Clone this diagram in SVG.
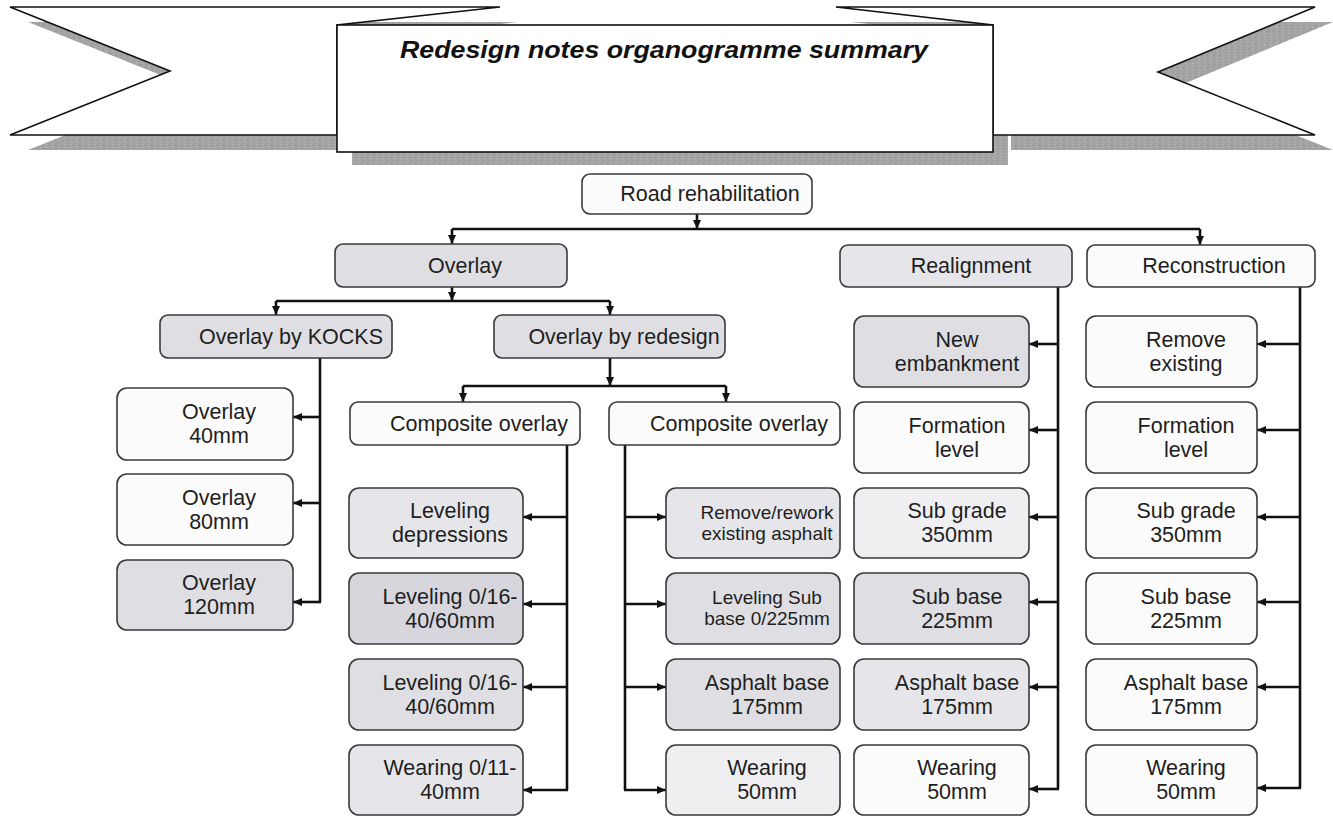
<svg xmlns="http://www.w3.org/2000/svg" width="1333" height="817" viewBox="0 0 1333 817">
  <style>
    .rib { fill: #ffffff; stroke: #111; stroke-width: 1.6; stroke-linejoin: miter; }
    .shd { fill: url(#stipple); }
    .box { stroke: #3a3a3a; stroke-width: 1.6; }
    .w  { fill: #fbfbfb; }
    .l1 { fill: #efeff2; }
    .l2 { fill: #e6e6ea; }
    .g1 { fill: #dedee3; }
    .g2 { fill: #d6d6dc; }
    text { font-family: "Liberation Sans", Arial, sans-serif; fill: #1e1e1e; text-anchor: middle; }
    .t { font-size: 21.5px; }
    .s { font-size: 19px; }
    .title { font-size: 24px; font-weight: bold; font-style: italic; fill: #111; }
    .c { fill: none; stroke: #111; stroke-width: 2.6; }
    .ca { fill: none; stroke: #111; stroke-width: 2.6; marker-end: url(#ah); }
  </style>
  <defs>
    <marker id="ah" markerUnits="userSpaceOnUse" markerWidth="9" markerHeight="8" refX="9" refY="4" orient="auto">
      <path d="M0,0 L9,4 L0,8 z" fill="#111"/>
    </marker>
    <!-- grainy grey used for the banner shadows -->
    <pattern id="stipple" patternUnits="userSpaceOnUse" width="6" height="6">
      <rect width="6" height="6" fill="#a4a4a4"/>
      <rect x="1" y="1" width="1" height="1" fill="#8c8c8c"/>
      <rect x="4" y="3" width="1" height="1" fill="#bcbcbc"/>
      <rect x="2" y="4" width="1" height="1" fill="#929292"/>
      <rect x="5" y="0" width="1" height="1" fill="#b4b4b4"/>
    </pattern>
  </defs>

  <!-- title banner: cast shadows -->
  <g id="banner">
    <polygon class="shd" points="28,22 518,22 355,40 355,150 28,150 188,86"/>
    <polygon class="shd" points="851,22 1333,22 1176,87 1333,150 1011,150 1011,40"/>
    <rect class="shd" x="352" y="38" width="656" height="127"/>
    <!-- ribbon tails -->
    <polygon class="rib" points="10,7 500,7 337,25 337,135 10,135 170,71"/>
    <polygon class="rib" points="836,7 1315,7 1158,72 1315,135 993,135 993,25"/>
    <!-- front panel -->
    <rect class="rib" x="337" y="25" width="656" height="127"/>
    <text class="title" x="664" y="58" textLength="528" lengthAdjust="spacingAndGlyphs">Redesign notes organogramme summary</text>
  </g>

  <!-- connectors -->
  <g id="connectors">
    <!-- Road rehabilitation -->
    <line class="ca" x1="697" y1="214" x2="697" y2="229"/>
    <line class="c" x1="452" y1="229" x2="1200" y2="229"/>
    <line class="ca" x1="452" y1="229" x2="452" y2="244"/>
    <line class="ca" x1="1200" y1="229" x2="1200" y2="245"/>
    <!-- Overlay -->
    <line class="ca" x1="452" y1="287" x2="452" y2="301"/>
    <line class="c" x1="276" y1="301" x2="610" y2="301"/>
    <line class="ca" x1="276" y1="301" x2="276" y2="315"/>
    <line class="ca" x1="610" y1="301" x2="610" y2="315"/>
    <!-- Overlay by redesign -->
    <line class="ca" x1="610" y1="358" x2="610" y2="386"/>
    <line class="c" x1="463" y1="386" x2="726" y2="386"/>
    <line class="ca" x1="463" y1="386" x2="463" y2="402"/>
    <line class="ca" x1="726" y1="386" x2="726" y2="402"/>
    <!-- Overlay by KOCKS -->
    <polyline class="c" points="320,358 320,602"/>
    <line class="ca" x1="320" y1="417" x2="293" y2="417"/>
    <line class="ca" x1="320" y1="503" x2="293" y2="503"/>
    <line class="ca" x1="321" y1="602" x2="293" y2="602"/>
    <!-- Composite overlay (left) -->
    <polyline class="c" points="567,445 567,790"/>
    <line class="ca" x1="567" y1="517" x2="523" y2="517"/>
    <line class="ca" x1="567" y1="604" x2="523" y2="604"/>
    <line class="ca" x1="567" y1="687" x2="523" y2="687"/>
    <line class="ca" x1="568" y1="790" x2="523" y2="790"/>
    <!-- Composite overlay (right) -->
    <polyline class="c" points="625,445 625,790"/>
    <line class="ca" x1="625" y1="517" x2="666" y2="517"/>
    <line class="ca" x1="625" y1="604" x2="666" y2="604"/>
    <line class="ca" x1="625" y1="687" x2="666" y2="687"/>
    <line class="ca" x1="624" y1="790" x2="666" y2="790"/>
    <!-- Realignment -->
    <polyline class="c" points="1058,287 1058,789"/>
    <line class="ca" x1="1058" y1="344" x2="1029" y2="344"/>
    <line class="ca" x1="1058" y1="430" x2="1029" y2="430"/>
    <line class="ca" x1="1058" y1="517" x2="1029" y2="517"/>
    <line class="ca" x1="1058" y1="602" x2="1029" y2="602"/>
    <line class="ca" x1="1058" y1="687" x2="1029" y2="687"/>
    <line class="ca" x1="1059" y1="789" x2="1029" y2="789"/>
    <!-- Reconstruction -->
    <polyline class="c" points="1300,287 1300,788"/>
    <line class="ca" x1="1300" y1="344" x2="1257" y2="344"/>
    <line class="ca" x1="1300" y1="430" x2="1257" y2="430"/>
    <line class="ca" x1="1300" y1="517" x2="1257" y2="517"/>
    <line class="ca" x1="1300" y1="602" x2="1257" y2="602"/>
    <line class="ca" x1="1300" y1="687" x2="1257" y2="687"/>
    <line class="ca" x1="1301" y1="788" x2="1257" y2="788"/>
  </g>

  <!-- top levels -->
  <g id="road-rehabilitation">
    <rect class="box w" x="582" y="174" width="230" height="40" rx="8"/>
    <text class="t" x="710" y="201">Road rehabilitation</text>
  </g>
  <g id="overlay">
    <rect class="box g1" x="335" y="244" width="232" height="43" rx="8"/>
    <text class="t" x="465" y="273">Overlay</text>
  </g>
  <g id="realignment">
    <rect class="box l2" x="840" y="245" width="232" height="42" rx="8"/>
    <text class="t" x="971" y="273">Realignment</text>
  </g>
  <g id="reconstruction">
    <rect class="box w" x="1087" y="245" width="228" height="42" rx="8"/>
    <text class="t" x="1214" y="273">Reconstruction</text>
  </g>
  <g id="overlay-kocks">
    <rect class="box g1" x="160" y="315" width="232" height="43" rx="8"/>
    <text class="t" x="291" y="344">Overlay by KOCKS</text>
  </g>
  <g id="overlay-redesign">
    <rect class="box g1" x="494" y="315" width="231" height="43" rx="8"/>
    <text class="t" x="624" y="344">Overlay by redesign</text>
  </g>
  <g id="composite-overlay-1">
    <rect class="box w" x="350" y="402" width="230" height="43" rx="8"/>
    <text class="t" x="479" y="431">Composite overlay</text>
  </g>
  <g id="composite-overlay-2">
    <rect class="box w" x="609" y="402" width="231" height="43" rx="8"/>
    <text class="t" x="739" y="431">Composite overlay</text>
  </g>

  <!-- Overlay by KOCKS column -->
  <g id="overlay-40">
    <rect class="box w" x="117" y="388" width="176" height="72" rx="10"/>
    <text class="t" x="219" y="419">Overlay</text>
    <text class="t" x="219" y="443">40mm</text>
  </g>
  <g id="overlay-80">
    <rect class="box w" x="117" y="474" width="176" height="71" rx="10"/>
    <text class="t" x="219" y="505">Overlay</text>
    <text class="t" x="219" y="529">80mm</text>
  </g>
  <g id="overlay-120">
    <rect class="box g1" x="117" y="560" width="176" height="70" rx="10"/>
    <text class="t" x="219" y="590">Overlay</text>
    <text class="t" x="219" y="614">120mm</text>
  </g>

  <!-- Composite overlay (left) column -->
  <g id="leveling-depressions">
    <rect class="box l2" x="349" y="488" width="174" height="70" rx="10"/>
    <text class="t" x="450" y="518">Leveling</text>
    <text class="t" x="450" y="542">depressions</text>
  </g>
  <g id="leveling-1">
    <rect class="box g2" x="349" y="573" width="174" height="71" rx="10"/>
    <text class="t" x="450" y="604">Leveling 0/16-</text>
    <text class="t" x="450" y="628">40/60mm</text>
  </g>
  <g id="leveling-2">
    <rect class="box g1" x="349" y="659" width="174" height="71" rx="10"/>
    <text class="t" x="450" y="690">Leveling 0/16-</text>
    <text class="t" x="450" y="714">40/60mm</text>
  </g>
  <g id="wearing-0-11">
    <rect class="box l2" x="349" y="745" width="174" height="70" rx="10"/>
    <text class="t" x="450" y="775">Wearing 0/11-</text>
    <text class="t" x="450" y="799">40mm</text>
  </g>

  <!-- Composite overlay (right) column -->
  <g id="remove-rework">
    <rect class="box l2" x="666" y="488" width="174" height="70" rx="10"/>
    <text class="s" x="767" y="519">Remove/rework</text>
    <text class="s" x="767" y="540">existing asphalt</text>
  </g>
  <g id="leveling-sub-base">
    <rect class="box g1" x="666" y="573" width="174" height="71" rx="10"/>
    <text class="s" x="767" y="604">Leveling Sub</text>
    <text class="s" x="767" y="625">base 0/225mm</text>
  </g>
  <g id="asphalt-base-c">
    <rect class="box g1" x="666" y="659" width="174" height="71" rx="10"/>
    <text class="t" x="767" y="690">Asphalt base</text>
    <text class="t" x="767" y="714">175mm</text>
  </g>
  <g id="wearing-c">
    <rect class="box l1" x="666" y="745" width="174" height="70" rx="10"/>
    <text class="t" x="767" y="775">Wearing</text>
    <text class="t" x="767" y="799">50mm</text>
  </g>

  <!-- Realignment column -->
  <g id="new-embankment">
    <rect class="box g1" x="854" y="316" width="175" height="71" rx="10"/>
    <text class="t" x="957" y="347">New</text>
    <text class="t" x="957" y="371">embankment</text>
  </g>
  <g id="formation-level-r">
    <rect class="box w" x="854" y="402" width="175" height="71" rx="10"/>
    <text class="t" x="957" y="433">Formation</text>
    <text class="t" x="957" y="457">level</text>
  </g>
  <g id="sub-grade-r">
    <rect class="box l1" x="854" y="488" width="175" height="70" rx="10"/>
    <text class="t" x="957" y="518">Sub grade</text>
    <text class="t" x="957" y="542">350mm</text>
  </g>
  <g id="sub-base-r">
    <rect class="box g1" x="854" y="573" width="175" height="71" rx="10"/>
    <text class="t" x="957" y="604">Sub base</text>
    <text class="t" x="957" y="628">225mm</text>
  </g>
  <g id="asphalt-base-r">
    <rect class="box l2" x="854" y="659" width="175" height="71" rx="10"/>
    <text class="t" x="957" y="690">Asphalt base</text>
    <text class="t" x="957" y="714">175mm</text>
  </g>
  <g id="wearing-r">
    <rect class="box w" x="854" y="745" width="175" height="70" rx="10"/>
    <text class="t" x="957" y="775">Wearing</text>
    <text class="t" x="957" y="799">50mm</text>
  </g>

  <!-- Reconstruction column -->
  <g id="remove-existing">
    <rect class="box w" x="1086" y="316" width="171" height="71" rx="10"/>
    <text class="t" x="1186" y="347">Remove</text>
    <text class="t" x="1186" y="371">existing</text>
  </g>
  <g id="formation-level-c">
    <rect class="box w" x="1086" y="402" width="171" height="71" rx="10"/>
    <text class="t" x="1186" y="433">Formation</text>
    <text class="t" x="1186" y="457">level</text>
  </g>
  <g id="sub-grade-c">
    <rect class="box w" x="1086" y="488" width="171" height="70" rx="10"/>
    <text class="t" x="1186" y="518">Sub grade</text>
    <text class="t" x="1186" y="542">350mm</text>
  </g>
  <g id="sub-base-c">
    <rect class="box w" x="1086" y="573" width="171" height="71" rx="10"/>
    <text class="t" x="1186" y="604">Sub base</text>
    <text class="t" x="1186" y="628">225mm</text>
  </g>
  <g id="asphalt-base-c2">
    <rect class="box w" x="1086" y="659" width="171" height="71" rx="10"/>
    <text class="t" x="1186" y="690">Asphalt base</text>
    <text class="t" x="1186" y="714">175mm</text>
  </g>
  <g id="wearing-c2">
    <rect class="box w" x="1086" y="745" width="171" height="70" rx="10"/>
    <text class="t" x="1186" y="775">Wearing</text>
    <text class="t" x="1186" y="799">50mm</text>
  </g>
</svg>
